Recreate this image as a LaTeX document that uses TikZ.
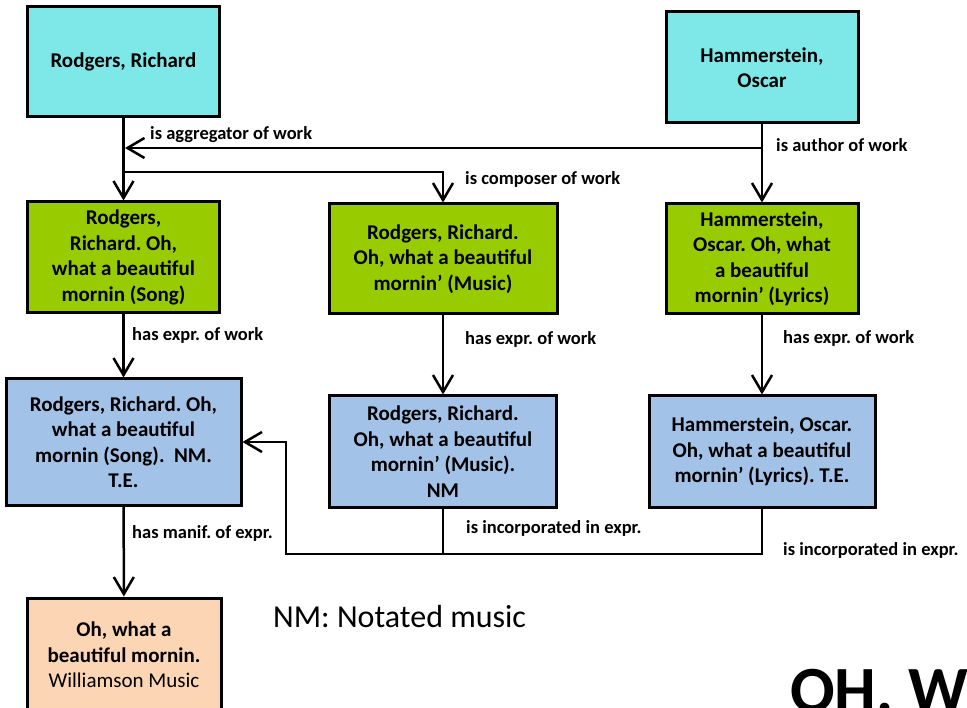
\documentclass[tikz,border=0pt]{standalone}
\usepackage{fontspec}
\setmainfont{Carlito}
\usepackage{xcolor}
\usetikzlibrary{positioning,arrows.meta}
\definecolor{agentcyan}{RGB}{126,232,232}
\definecolor{workgreen}{RGB}{153,204,0}
\definecolor{exprblue}{RGB}{163,194,232}
\definecolor{manifpeach}{RGB}{252,213,180}
\frenchspacing

\begin{document}
\begin{tikzpicture}[
  x=1pt, y=-1pt,
  every node/.style={font=\fontsize{21}{25.5}\selectfont\bfseries},
  box/.style={draw, line width=3pt, inner sep=2pt, align=center},
  agent/.style={box, fill=agentcyan},
  wk/.style={box, fill=workgreen},
  ex/.style={box, fill=exprblue},
  mf/.style={box, fill=manifpeach},
  rel/.style={font=\fontsize{18.5}{20}\selectfont\bfseries, anchor=west, inner sep=0pt},
  conn/.style={line width=2.5pt, -{Straight Barb[length=17pt,width=20pt,line width=2.5pt]}},
  link/.style={line width=2.5pt},
]
\useasboundingbox (0,0) rectangle (967,708);

\node[agent, minimum width=192pt, minimum height=110pt] (rodgers) at (123.5,62) {Rodgers, Richard};
\node[agent, minimum width=192pt, minimum height=111pt] (hammer) at (762,67.5) {Hammerstein,\\ Oscar};

\node[wk, minimum width=192pt, minimum height=111pt] (wsong) at (123.5,257.5) {Rodgers,\\ Richard. Oh,\\ what a beautiful\\ mornin (Song)};
\node[wk, minimum width=228pt, minimum height=110pt] (wmusic) at (443,259) {Rodgers, Richard.\\ Oh, what a beautiful\\ mornin’ (Music)};
\node[wk, minimum width=192pt, minimum height=110pt] (wlyrics) at (762,259) {Hammerstein,\\ Oscar. Oh, what\\ a beautiful\\ mornin’ (Lyrics)};

\node[ex, minimum width=235pt, minimum height=126pt] (esong) at (123.5,442) {Rodgers, Richard. Oh,\\ what a beautiful\\ mornin (Song).\ \ NM.\\ T.E.};
\node[ex, minimum width=227pt, minimum height=111pt] (emusic) at (443,451.5) {Rodgers, Richard.\\ Oh, what a beautiful\\ mornin’ (Music).\\ NM};
\node[ex, minimum width=226pt, minimum height=111pt] (elyrics) at (762,451.5) {Hammerstein, Oscar.\\ Oh, what a beautiful\\ mornin’ (Lyrics). T.E.};

\node[mf, minimum width=194pt, minimum height=114pt] (manif) at (124,655) {Oh, what a\\ beautiful mornin.\\ \mdseries Williamson Music};

% work level
\coordinate (cbranch) at (123.5,172);
\coordinate (hbranch) at (762,148);
\coordinate (agg) at (125,148);
\draw[conn] (rodgers) -- (wsong);
\draw[conn] (cbranch) -| (wmusic);
\draw[conn] (hammer) -- (wlyrics);
\draw[conn] (hbranch) -- (agg);
\node[rel] (laggr) at (150,135) {is aggregator of work};
\node[rel] (lcomp) at (465,179) {is composer of work};
\node[rel] (lauth) at (776,145) {is author of work};

% expressions
\draw[conn] (wsong) -- (esong);
\draw[conn] (wmusic) -- (emusic);
\draw[conn] (wlyrics) -- (elyrics);
\node[rel] (lexpr1) at (132,335) {has expr. of work};
\node[rel] (lexpr2) at (465,339) {has expr. of work};
\node[rel] (lexpr3) at (783,338) {has expr. of work};

% manifestation and incorporation
\draw[conn] (esong) -- (manif);
\node[rel] (lmanif) at (132,533) {has manif. of expr.};
\coordinate (jn) at (286,554);
\draw[link] (emusic.south) -- (emusic.south |- jn);
\draw[conn] (elyrics.south) |- (jn) |- (esong.east);
\node[rel] (linc1) at (466,528) {is incorporated in expr.};
\node[rel] (linc2) at (783,550) {is incorporated in expr.};

\node[anchor=west, inner sep=0pt, font=\fontsize{32}{36}\selectfont] (legend) at (273,617) {NM: Notated music};
\node[anchor=base west, inner sep=0pt, font=\fontsize{66}{70}\selectfont\bfseries] (sheet) at (790,712) {OH, W};
\end{tikzpicture}
\end{document}
